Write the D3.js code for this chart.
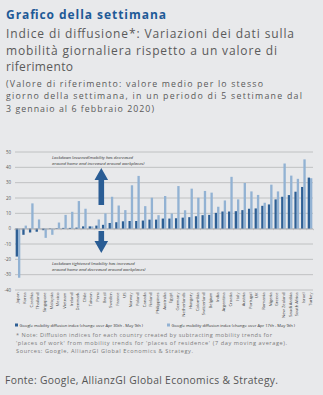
<!DOCTYPE html>
<html><head><meta charset="utf-8">
<script src="https://cdn.jsdelivr.net/npm/d3@7/dist/d3.min.js"></script>
<style>
html,body{margin:0;padding:0;background:#e8e9eb;}
svg{display:block;}
</style></head>
<body>
<svg id="c" width="323" height="395"></svg>
<script>
const categories = ["Japan","Korea","Czechia","Thailand","Singapore","Malaysia","Mexico","Vietnam","Ireland","Denmark","Chile","Taiwan","Peru","Brazil","Sweden","France","US","Norway","Poland","Canada","Finland","Philippines","Australia","Egypt","Germany","Netherlands","Hungary","Colombia","Switzerland","Belgium","India","Argentina","Croatia","Italy","Austria","Portugal","UK","Romania","Nigeria","Greece","New Zealand","Saudi Arabia","South Africa","Israel","Turkey"];
const recentChange = [-18.2,-4,-2.5,-2,-1,-0.3,0.3,0.5,0.5,0.7,1.5,1.5,2,2.5,3.7,4.2,4.8,5,5,5.3,5.9,5.9,6.6,6.6,6.8,7.2,7.5,8.1,8.8,9,10.3,11.2,11.2,11.4,12.1,13,13.2,14.9,15.8,19.1,20.8,21.9,24.1,27.2,33.3];
const longerChange = [-32,2,16.5,6,-6,-4,4,9,11,18,13,1.5,6,10,20.8,15.1,12.1,28.3,34.4,14.7,20.2,8.8,21.3,9.9,27.8,12,26.1,20.2,24.6,23.5,14.3,18.4,33.8,19.1,29.8,24.3,22,16.9,28.7,24.3,42.5,34.6,32.5,45.2,32.9];
const yTicks = [50,40,30,20,10,0,-10,-20,-30,-40];
const seriesNames = ["Google mobility diffusion index (change over Apr 30th - May 9th )","Google mobility diffusion index (change over Apr 17th - May 9th )"];
const colors = ["#2e5f94","#92b2d3"];

const svg = d3.select("#c");
const FONT = "'Open Sans', sans-serif";

function line(t, x, y, fs, color, len, weight){
  const s = svg.append("text").attr("x",x).attr("y",y).attr("font-family",FONT)
    .attr("font-size",fs).attr("fill",color).text(t);
  if(weight) s.attr("font-weight",weight);
  if(len){ s.attr("textLength",len).attr("lengthAdjust","spacing"); }
  return s;
}

// Header
line("Grafico della settimana", 6, 19, 12, "#1e5a97", 160, "bold");
line("Indice di diffusione*: Variazioni dei dati sulla", 6, 38, 12, "#5a5a5a", 288);
line("mobilità giornaliera rispetto a un valore di", 6, 54.5, 12, "#5a5a5a", 271);
line("riferimento", 6, 71, 12, "#5a5a5a", 67);
line("(Valore di riferimento: valore medio per lo stesso", 6, 86.5, 8.8, "#5a5a5a", 257);
line("giorno della settimana, in un periodo di 5 settimane dal", 6, 99.3, 8.8, "#5a5a5a", 296);
line("3 gennaio al 6 febbraio 2020)", 6, 112.1, 8.8, "#5a5a5a", 148);

// Chart
const x0 = d3.scaleBand().domain(categories).range([15,313]).paddingInner(0.3).paddingOuter(0.1);
const x1 = d3.scaleBand().domain([0,1]).range([0,x0.bandwidth()]);
const y = d3.scaleLinear().domain([-40,50]).range([290,152]);

const g = svg.append("g");
g.selectAll("line.grid").data(yTicks).join("line").attr("class","grid")
  .attr("x1",15).attr("x2",313).attr("y1",d=>y(d)).attr("y2",d=>y(d))
  .attr("stroke","#b5b6b8").attr("stroke-width",0.8);
g.selectAll("text.yl").data(yTicks).join("text").attr("class","yl")
  .attr("x",11).attr("y",d=>y(d)+1.5).attr("text-anchor","end")
  .attr("font-family",FONT).attr("font-size",4.4).attr("fill","#555").text(d=>d);

const groups = g.selectAll("g.grp").data(categories).join("g").attr("class","grp")
  .attr("transform",d=>`translate(${x0(d)},0)`);
groups.append("rect").attr("x",x1(0)).attr("width",x1.bandwidth())
  .attr("y",(d,i)=>y(Math.max(0,recentChange[i]))).attr("height",(d,i)=>Math.abs(y(recentChange[i])-y(0)))
  .attr("fill",colors[0]);
groups.append("rect").attr("x",x1(1)).attr("width",x1.bandwidth())
  .attr("y",(d,i)=>y(Math.max(0,longerChange[i]))).attr("height",(d,i)=>Math.abs(y(longerChange[i])-y(0)))
  .attr("fill",colors[1]);

// zero axis with ticks
const xAxis = d3.axisBottom(x0).tickSize(1.5).tickFormat("");
const ax = g.append("g").attr("transform",`translate(0,${y(0)})`).call(xAxis);
ax.select(".domain").attr("stroke","#a8a9ab").attr("stroke-width",0.6);
ax.selectAll(".tick line").attr("stroke","#a8a9ab").attr("stroke-width",0.5)
  .attr("transform",`translate(${-x0.step()/2},0)`);

// category labels
g.selectAll("text.cat").data(categories).join("text").attr("class","cat")
  .attr("transform",d=>`translate(${x0(d)+x0.bandwidth()/2+1.5},${y(-40)+2.5}) rotate(-90)`)
  .attr("text-anchor","end").attr("font-family",FONT).attr("font-size",4.2).attr("fill","#444").text(d=>d);

// annotations
const ann = g.append("g").attr("font-family",FONT).attr("font-style","italic").attr("font-size",4.3).attr("fill","#333");
ann.append("text").attr("x",52).attr("y",158.5).text("Lockdown lessened(mobility has decreased");
ann.append("text").attr("x",52).attr("y",164.5).text("around home and increased around workplaces)");
ann.append("text").attr("x",52).attr("y",264.5).text("Lockdown tightened (mobility has increased");
ann.append("text").attr("x",52).attr("y",270.5).text("around home and decreased around workplaces)");
const ac = 101.3;
g.append("path").attr("fill","#2a5d95")
  .attr("d",`M${ac-2.8},205 L${ac-2.8},180 L${ac-6.8},180 L${ac},168 L${ac+6.8},180 L${ac+2.8},180 L${ac+2.8},205 Z`);
g.append("path").attr("fill","#2a5d95")
  .attr("d",`M${ac-2.8},231 L${ac-2.8},241 L${ac-6.8},241 L${ac},253 L${ac+6.8},241 L${ac+2.8},241 L${ac+2.8},231 Z`);

// legend
const leg = svg.append("g").attr("font-family",FONT).attr("font-size",4.1).attr("fill","#333");
[15,167].forEach((lx,i)=>{
  leg.append("rect").attr("x",lx).attr("y",323.5).attr("width",3).attr("height",3).attr("fill",colors[i]);
  leg.append("text").attr("x",lx+4.5).attr("y",326.5).text(seriesNames[i]);
});

// notes
line("* Note: Diffusion indices for each country created by subtracting mobility trends for", 16, 337, 5.6, "#7a7a7a", 256);
line("'places of work' from mobility trends for 'places of residence' (7 day moving average).", 16, 344.8, 5.6, "#7a7a7a", 271);
line("Sources: Google, AllianzGI Global Economics & Strategy.", 16, 352.6, 5.6, "#7a7a7a", 177);

line("Fonte: Google, AllianzGI Global Economics & Strategy.", 5, 384, 10.3, "#555", 273);
</script>
</body></html>
